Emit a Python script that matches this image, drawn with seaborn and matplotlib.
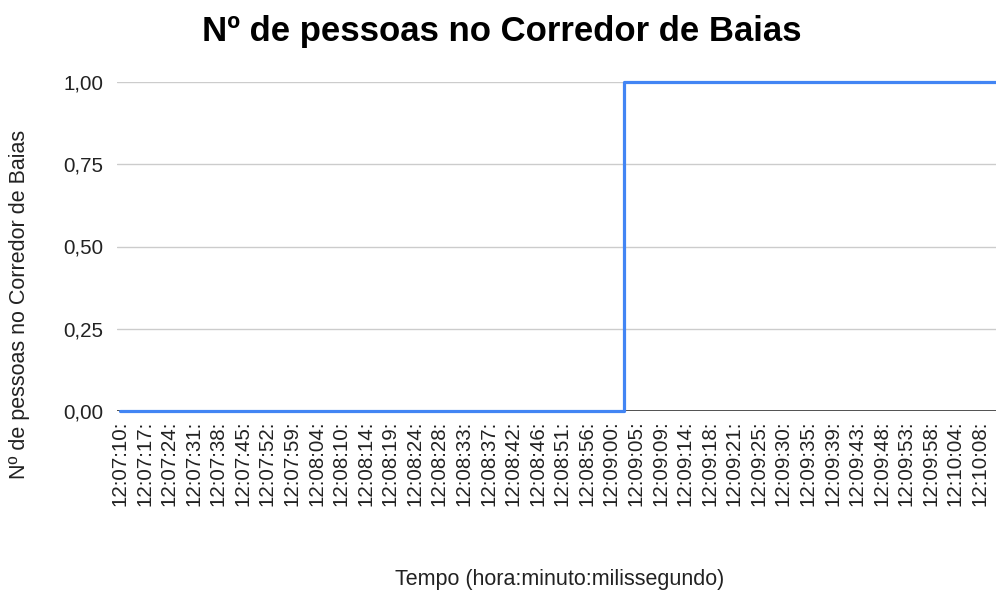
import matplotlib
matplotlib.use("Agg")
import matplotlib.pyplot as plt
import seaborn as sns
import numpy as np
import pandas as pd

# Timestamps shown on the horizontal axis (hora:minuto:segundo:)
tempos = [
    "12:07:10:", "12:07:17:", "12:07:24:", "12:07:31:", "12:07:38:", "12:07:45:",
    "12:07:52:", "12:07:59:", "12:08:04:", "12:08:10:", "12:08:14:", "12:08:19:",
    "12:08:24:", "12:08:28:", "12:08:33:", "12:08:37:", "12:08:42:", "12:08:46:",
    "12:08:51:", "12:08:56:", "12:09:00:", "12:09:05:", "12:09:09:", "12:09:14:",
    "12:09:18:", "12:09:21:", "12:09:25:", "12:09:30:", "12:09:35:", "12:09:39:",
    "12:09:43:", "12:09:48:", "12:09:53:", "12:09:58:", "12:10:04:", "12:10:08:",
]
# Number of people in the corridor at each timestamp
pessoas = [0] * 21 + [1] * 15

y_ticks = [0.0, 0.25, 0.5, 0.75, 1.0]
y_tick_labels = ["0,00", "0,25", "0,50", "0,75", "1,00"]

titulo = "Nº de pessoas no Corredor de Baias"
rotulo_y = "Nº de pessoas no Corredor de Baias"
rotulo_x = "Tempo (hora:minuto:milissegundo)"

sns.set_theme(style="white")
plt.rcParams["font.family"] = ["Liberation Sans", "DejaVu Sans"]

df = pd.DataFrame({"pos": np.arange(len(tempos)), "tempo": tempos, "pessoas": pessoas})

fig = plt.figure(figsize=(9.96, 5.96), dpi=100)
ax = fig.add_axes([117 / 996, 1 - 411 / 596, 1 - 117 / 996, (411 - 82) / 596])

# Gridlines and baseline
for t in y_ticks[1:]:
    ax.axhline(t, color="#cccccc", lw=1.0, zorder=1)
ax.axhline(0, color="#333333", lw=1.2, zorder=1)

blue = "#4285F4"
sns.lineplot(data=df, x="pos", y="pessoas", ax=ax, color=blue, lw=2.3,
             drawstyle="steps-mid", zorder=3, clip_on=False)

xmin, xmax = -0.12, len(tempos) - 1 + 0.65
ax.set_xlim(xmin, xmax)
ax.set_ylim(0, 1)
# Last value continues to the right edge of the plot area
ax.hlines(pessoas[-1], len(tempos) - 1, xmax, color=blue, lw=2.3, zorder=3, clip_on=False)

tick_fs = 14.8
label_fs = 15.5
ax.set_xticks(df["pos"])
ax.set_xticklabels(tempos, rotation=90, fontsize=tick_fs, color="#222222", va="top", ha="center")
ax.set_yticks(y_ticks)
ax.set_yticklabels(y_tick_labels, fontsize=tick_fs, color="#222222")
ax.tick_params(axis="y", length=0, pad=10)
ax.tick_params(axis="x", length=0, pad=7)
ax.set_xlabel("")
ax.set_ylabel("")
for s in ax.spines.values():
    s.set_visible(False)

fig.text(502 / 996, 1 - 31 / 596, titulo, ha="center", va="center",
         fontsize=25, fontweight="bold", color="#000000")
fig.text(20 / 996, 1 - 304 / 596, rotulo_y, ha="center", va="center",
         rotation=90, fontsize=label_fs, color="#222222")
fig.text(560 / 996, 1 - 580 / 596, rotulo_x, ha="center", va="center",
         fontsize=label_fs, color="#222222")

fig.savefig("out.png", dpi=100)
